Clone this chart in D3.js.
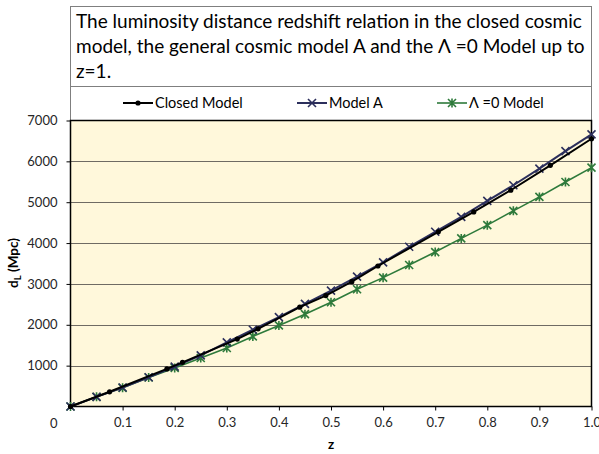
<!DOCTYPE html>
<html lang="en">
<head>
<meta charset="utf-8">
<title>Luminosity distance</title>
<style>
  body { margin: 0; background: #fff; }
  text { font-family: Lato, "Open Sans", sans-serif; }
</style>
</head>
<body>
<svg width="599" height="454"></svg>
<script src="https://d3js.org/d3.v7.min.js"></script>
<script>
  // values (z, d_L in Mpc)
  var closedZ  = [0, 0.075, 0.185, 0.215, 0.32, 0.36, 0.44, 0.49, 0.54, 0.59, 0.706, 0.774, 0.845, 0.921, 1.0];
  var closedDL = [0, 360, 920, 1080, 1651, 1902, 2432, 2715, 3056, 3439, 4276, 4763, 5293, 5902, 6553];

  var modelAZ  = [0, 0.05, 0.1, 0.15, 0.2, 0.25, 0.3, 0.35, 0.4, 0.45, 0.5, 0.55, 0.6, 0.65, 0.7, 0.75, 0.8, 0.85, 0.9, 0.95, 1.0];
  var modelADL = [0, 235, 465, 715, 975, 1251, 1568, 1878, 2188, 2512, 2837, 3178, 3529, 3910, 4276, 4641, 5032, 5415, 5821, 6251, 6659];

  var lambda0Z  = modelAZ;
  var lambda0DL = [0, 237, 456, 710, 944, 1188, 1431, 1715, 1984, 2260, 2553, 2870, 3154, 3463, 3780, 4114, 4439, 4789, 5130, 5496, 5846];

  var yTicks = [0, 1000, 2000, 3000, 4000, 5000, 6000, 7000];
  var xTicks = [0.1, 0.2, 0.3, 0.4, 0.5, 0.6, 0.7, 0.8, 0.9, 1.0];

  var titleLines = [
    "The luminosity distance redshift relation in the closed cosmic",
    "model, the general cosmic model A and the \u039B =0 Model up to",
    "z=1."
  ];

  var series = [
    {name: "Closed Model", z: closedZ, d: closedDL, color: "#000000", width: 2, marker: "dot"},
    {name: "Model A", z: modelAZ, d: modelADL, color: "#2c2f5c", width: 2, marker: "x"},
    {name: "\u039B =0 Model", z: lambda0Z, d: lambda0DL, color: "#2e7a3b", width: 1.6, marker: "star"}
  ];

  var svg = d3.select("svg");
  var plotL = 70.5, plotR = 591.5, plotT = 120.5, plotB = 406.5;

  var x = d3.scaleLinear().domain([0, 1]).range([plotL, plotR]);
  var y = d3.scaleLinear().domain([0, 7000]).range([plotB, plotT]);

  // title box + legend box
  svg.append("rect").attr("x", plotL).attr("y", 6.5).attr("width", plotR - plotL).attr("height", 80)
    .attr("fill", "#fff").attr("stroke", "#7f7f7f");
  svg.append("rect").attr("x", plotL).attr("y", 86.5).attr("width", plotR - plotL).attr("height", plotT - 86.5)
    .attr("fill", "#fff").attr("stroke", "#7f7f7f");

  var title = svg.append("g");
  titleLines.forEach(function(t, i) {
    title.append("text").attr("x", 76).attr("y", 28 + i * 25)
      .attr("font-size", 18).attr("fill", "#000").text(t);
  });
  // fit font size to the first line width
  var w0 = title.select("text").node().getComputedTextLength();
  var fs = 18 * 506 / w0;
  title.selectAll("text").attr("font-size", fs);

  // plot background
  svg.append("rect").attr("x", plotL).attr("y", plotT).attr("width", plotR - plotL).attr("height", plotB - plotT)
    .attr("fill", "#fff8db");

  // gridlines
  svg.append("g").selectAll("line").data(yTicks.filter(function(d) { return d > 0 && d < 7000; }))
    .join("line")
    .attr("x1", plotL).attr("x2", plotR)
    .attr("y1", function(d) { return Math.round(y(d)) + 0.5; })
    .attr("y2", function(d) { return Math.round(y(d)) + 0.5; })
    .attr("stroke", "#6f6b63").attr("stroke-width", 1);

  // axes
  var yAxis = svg.append("g").attr("transform", "translate(" + plotL + ",0)")
    .call(d3.axisLeft(y).tickValues(yTicks).tickSize(4).tickPadding(9).tickFormat(d3.format("d")));
  yAxis.select(".domain").remove();
  yAxis.selectAll("line").attr("stroke", "#000");
  yAxis.selectAll("text").attr("font-size", 13).attr("fill", "#262626")
    .attr("dy", function(d) { return d === 0 ? "1.6em" : "0.32em"; });
  yAxis.selectAll(".tick").filter(function(d) { return d === 0; }).select("line").remove();

  var xAxis = svg.append("g").attr("transform", "translate(0," + plotB + ")")
    .call(d3.axisBottom(x).tickValues(xTicks).tickSize(4).tickPadding(7).tickFormat(d3.format(".1f")));
  xAxis.select(".domain").remove();
  xAxis.selectAll("line").attr("stroke", "#000");
  xAxis.selectAll("text").attr("font-size", 13).attr("fill", "#262626");

  // plot border
  svg.append("rect").attr("x", plotL).attr("y", plotT).attr("width", plotR - plotL).attr("height", plotB - plotT)
    .attr("fill", "none").attr("stroke", "#000").attr("stroke-width", 1.5);

  // axis titles
  var yt = svg.append("text").attr("transform", "translate(18,263) rotate(-90)")
    .attr("text-anchor", "middle").attr("font-size", 13.5).attr("font-weight", "bold").attr("fill", "#000");
  yt.append("tspan").text("d");
  yt.append("tspan").attr("font-size", 9.5).attr("dy", 3).text("L");
  yt.append("tspan").attr("dy", -3).text(" (Mpc)");

  svg.append("text").attr("x", 331).attr("y", 449).attr("text-anchor", "middle")
    .attr("font-size", 13.5).attr("font-weight", "bold").attr("fill", "#000").text("z");

  function drawMarker(g, type, color) {
    if (type === "dot") {
      g.append("circle").attr("r", 2.6).attr("fill", color);
    } else if (type === "x") {
      g.append("path").attr("d", "M-4,-4L4,4M-4,4L4,-4").attr("stroke", color).attr("stroke-width", 1.6).attr("fill", "none");
    } else {
      g.append("path").attr("d", "M-4,-4L4,4M-4,4L4,-4M0,-4.5L0,4.5").attr("stroke", color).attr("stroke-width", 1.6).attr("fill", "none");
    }
  }

  var line = d3.line().x(function(d) { return x(d[0]); }).y(function(d) { return y(d[1]); });

  // draw green first, then model A, then closed on top
  [series[2], series[1], series[0]].forEach(function(s) {
    var pts = s.z.map(function(z, i) { return [z, s.d[i]]; });
    svg.append("path").datum(pts).attr("d", line)
      .attr("fill", "none").attr("stroke", s.color).attr("stroke-width", s.width);
    pts.forEach(function(p) {
      var g = svg.append("g").attr("transform", "translate(" + x(p[0]) + "," + y(p[1]) + ")");
      drawMarker(g, s.marker, s.color);
    });
  });

  // legend
  var legendX = [123, 297, 437];
  series.forEach(function(s, i) {
    var g = svg.append("g").attr("transform", "translate(" + legendX[i] + ",103)");
    g.append("line").attr("x1", 0).attr("x2", 30).attr("stroke", s.color).attr("stroke-width", s.width);
    drawMarker(g.append("g").attr("transform", "translate(15,0)"), s.marker, s.color);
    g.append("text").attr("x", 32).attr("y", 0).attr("dy", "0.35em")
      .attr("font-size", 14.5).attr("fill", "#000").text(s.name);
  });
</script>
</body>
</html>
